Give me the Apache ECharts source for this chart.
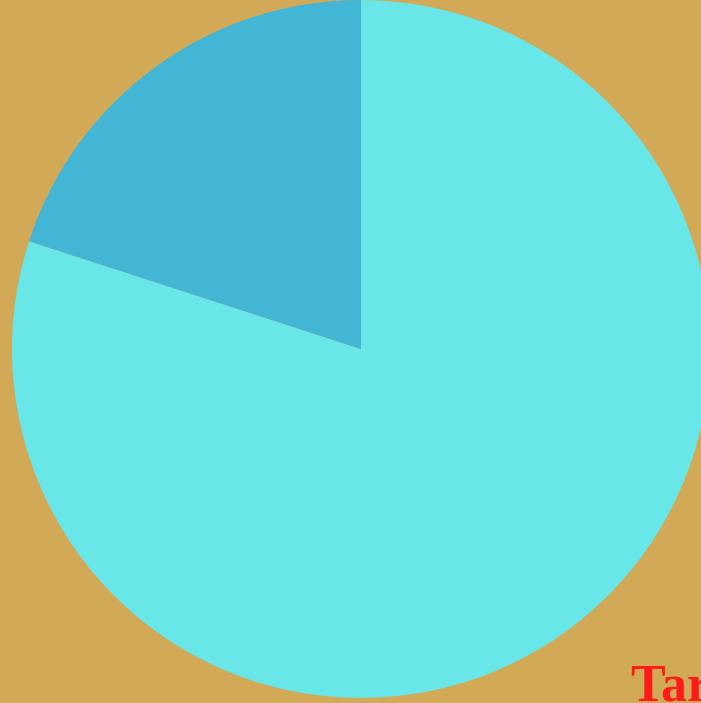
<!DOCTYPE html>
<html><head><meta charset="utf-8">
<script src="https://cdn.jsdelivr.net/npm/echarts@6/dist/echarts.min.js"></script>
<style>html,body{margin:0;padding:0;background:#D2A956;}#c{width:701px;height:703px;}</style>
</head><body><div id="c"></div>
<script>
const categories = ["A", "B"];
const values = [80, 20];
const colors = ["#68E6E8", "#42B6D4"];
const titleText = "Target";
const chart = echarts.init(document.getElementById('c'));
chart.setOption({
  backgroundColor: '#D2A956',
  animation: false,
  title: {
    text: titleText, left: 626, top: 657,
    textStyle: {color: '#FF1A1A', fontFamily: 'Liberation Serif', fontWeight: 900, fontSize: 52}
  },
  series: [{
    type: 'pie', center: [361, 349], radius: 349, startAngle: 90, clockwise: true,
    label: {show: false}, labelLine: {show: false},
    itemStyle: {borderWidth: 0},
    data: categories.map((c, i) => ({name: c, value: values[i], itemStyle: {color: colors[i]}}))
  }]
});
</script></body></html>
